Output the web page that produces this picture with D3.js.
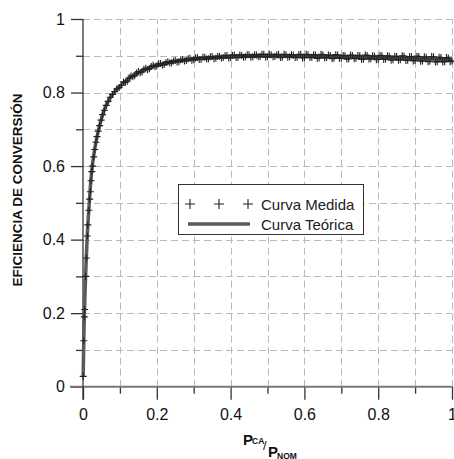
<!DOCTYPE html>
<html>
<head>
<meta charset="utf-8">
<script src="https://cdn.jsdelivr.net/npm/d3@7"></script>
<style>
  html, body { margin: 0; padding: 0; background: #fff; }
  svg { display: block; font-family: Arial, "Liberation Sans", sans-serif; }
</style>
</head>
<body>
<svg id="chart" width="454" height="459"></svg>
<script>
// Tick values
const majorTicks = [0, 0.2, 0.4, 0.6, 0.8, 1];
const minorTicks = [0.1, 0.3, 0.5, 0.7, 0.9];
const gridTicks = [0.1, 0.2, 0.3, 0.4, 0.5, 0.6, 0.7, 0.8, 0.9, 1];
const tickLabels = ["0", "0.2", "0.4", "0.6", "0.8", "1"];

// Theoretical efficiency curve (P_CA/P_NOM, efficiency)
const theoP = [0.0005, 0.002, 0.0035, 0.006, 0.0085, 0.0115, 0.015, 0.019, 0.024, 0.03,
  0.037, 0.045, 0.055, 0.065, 0.08, 0.095, 0.11, 0.13, 0.15, 0.175, 0.2, 0.25, 0.3,
  0.35, 0.4, 0.45, 0.5, 0.55, 0.6, 0.65, 0.7, 0.75, 0.8, 0.85, 0.9, 0.95, 1.0];
const theoEta = [0.03, 0.12, 0.19, 0.27, 0.34, 0.41, 0.47, 0.53, 0.59, 0.635,
  0.675, 0.71, 0.745, 0.77, 0.795, 0.812, 0.826, 0.842, 0.854, 0.866, 0.874, 0.885, 0.891,
  0.895, 0.898, 0.9, 0.9, 0.9, 0.899, 0.898, 0.897, 0.896, 0.895, 0.894, 0.893, 0.891, 0.89];

// Measured efficiency points
const measP = [0.0005, 0.002, 0.0035, 0.0045, 0.007, 0.009, 0.0115, 0.013, 0.016, 0.018,
  0.02, 0.022, 0.024, 0.026, 0.029, 0.032, 0.035, 0.038, 0.041, 0.045, 0.049, 0.053,
  0.058, 0.063, 0.068, 0.074, 0.08, 0.086, 0.092, 0.098, 0.104,
  0.110, 0.115, 0.120, 0.125, 0.130, 0.135, 0.140, 0.145, 0.150, 0.155,
  0.160, 0.165, 0.170, 0.175, 0.180, 0.185, 0.190, 0.195, 0.200, 0.205,
  0.210, 0.215, 0.220, 0.225, 0.230, 0.235, 0.240, 0.245, 0.250, 0.255,
  0.260, 0.265, 0.270, 0.275, 0.280, 0.285, 0.290, 0.295, 0.300, 0.305,
  0.310, 0.315, 0.320, 0.325, 0.330, 0.335, 0.340, 0.345, 0.350, 0.355,
  0.360, 0.365, 0.370, 0.375, 0.380, 0.385, 0.390, 0.395, 0.400, 0.405,
  0.410, 0.415, 0.420, 0.425, 0.430, 0.435, 0.440, 0.445, 0.450, 0.455,
  0.460, 0.465, 0.470, 0.475, 0.480, 0.485, 0.490, 0.495, 0.500, 0.505,
  0.510, 0.515, 0.520, 0.525, 0.530, 0.535, 0.540, 0.545, 0.550, 0.555,
  0.560, 0.565, 0.570, 0.575, 0.580, 0.585, 0.590, 0.595, 0.600, 0.605,
  0.610, 0.615, 0.620, 0.625, 0.630, 0.635, 0.640, 0.645, 0.650, 0.655,
  0.660, 0.665, 0.670, 0.675, 0.680, 0.685, 0.690, 0.695, 0.700, 0.705,
  0.710, 0.715, 0.720, 0.725, 0.730, 0.735, 0.740, 0.745, 0.750, 0.755,
  0.760, 0.765, 0.770, 0.775, 0.780, 0.785, 0.790, 0.795, 0.800, 0.805,
  0.810, 0.815, 0.820, 0.825, 0.830, 0.835, 0.840, 0.845, 0.850, 0.855,
  0.860, 0.865, 0.870, 0.875, 0.880, 0.885, 0.890, 0.895, 0.900, 0.905,
  0.910, 0.915, 0.920, 0.925, 0.930, 0.935, 0.940, 0.945, 0.950, 0.955,
  0.960, 0.965, 0.970, 0.975, 0.980, 0.985, 0.990, 0.995, 1.000];
const measEta = [0.028, 0.125, 0.19, 0.21, 0.30, 0.35, 0.41, 0.44, 0.48, 0.51,
  0.53, 0.56, 0.585, 0.6, 0.625, 0.645, 0.665, 0.68, 0.695, 0.71, 0.725, 0.74,
  0.752, 0.765, 0.776, 0.787, 0.795, 0.803, 0.81, 0.814, 0.82,
  0.829, 0.828, 0.831, 0.840, 0.845, 0.843, 0.846, 0.853, 0.857, 0.854,
  0.856, 0.863, 0.866, 0.862, 0.865, 0.871, 0.874, 0.870, 0.872, 0.878,
  0.879, 0.875, 0.876, 0.882, 0.884, 0.880, 0.881, 0.886, 0.887, 0.883,
  0.884, 0.889, 0.890, 0.886, 0.887, 0.892, 0.893, 0.888, 0.889, 0.894,
  0.895, 0.890, 0.890, 0.896, 0.896, 0.891, 0.892, 0.897, 0.898, 0.892,
  0.893, 0.898, 0.899, 0.894, 0.895, 0.900, 0.901, 0.894, 0.895, 0.901,
  0.902, 0.895, 0.896, 0.902, 0.901, 0.896, 0.897, 0.903, 0.903, 0.896,
  0.897, 0.903, 0.902, 0.897, 0.898, 0.904, 0.904, 0.896, 0.897, 0.904,
  0.903, 0.897, 0.898, 0.903, 0.904, 0.895, 0.896, 0.904, 0.903, 0.896,
  0.897, 0.903, 0.902, 0.895, 0.896, 0.903, 0.904, 0.894, 0.895, 0.904,
  0.903, 0.895, 0.896, 0.903, 0.902, 0.893, 0.894, 0.904, 0.903, 0.894,
  0.895, 0.902, 0.901, 0.892, 0.893, 0.903, 0.902, 0.893, 0.894, 0.901,
  0.900, 0.891, 0.892, 0.902, 0.901, 0.892, 0.893, 0.901, 0.900, 0.890,
  0.891, 0.902, 0.901, 0.891, 0.892, 0.900, 0.899, 0.889, 0.890, 0.901,
  0.900, 0.890, 0.891, 0.900, 0.899, 0.888, 0.889, 0.899, 0.898, 0.888,
  0.889, 0.900, 0.899, 0.887, 0.888, 0.898, 0.897, 0.886, 0.887, 0.899,
  0.898, 0.885, 0.886, 0.897, 0.896, 0.884, 0.885, 0.898, 0.897, 0.883,
  0.884, 0.896, 0.895, 0.883, 0.884, 0.895, 0.894, 0.884, 0.886];

const legendLabels = ["Curva Medida", "Curva Teórica"];

const svg = d3.select("#chart");
svg.append("rect").attr("width", 454).attr("height", 459).attr("fill", "#fff");

const x = d3.scaleLinear().domain([0, 1]).range([83, 452]);
const y = d3.scaleLinear().domain([0, 1]).range([386.7, 19]);

// Dashed grid
const grid = svg.append("g").attr("stroke", "#b9b9b9").attr("stroke-width", 1)
  .attr("stroke-dasharray", "7,4");
grid.selectAll("line.v").data(gridTicks).join("line").attr("class", "v")
  .attr("x1", d => Math.round(x(d)) + 0.5).attr("x2", d => Math.round(x(d)) + 0.5)
  .attr("y1", y(0)).attr("y2", y(1));
grid.selectAll("line.h").data(gridTicks).join("line").attr("class", "h")
  .attr("x1", x(0)).attr("x2", x(1))
  .attr("y1", d => Math.round(y(d)) + 0.5).attr("y2", d => Math.round(y(d)) + 0.5);

// Axes
const fmt = d => tickLabels[majorTicks.indexOf(d)];
const xAxis = svg.append("g").attr("transform", `translate(0,${y(0)})`)
  .call(d3.axisBottom(x).tickValues(majorTicks).tickFormat(fmt).tickSize(13).tickPadding(9));
const xMinor = svg.append("g").attr("transform", `translate(0,${y(0)})`)
  .call(d3.axisBottom(x).tickValues(minorTicks).tickFormat("").tickSize(7));
const yAxis = svg.append("g").attr("transform", `translate(${x(0)},0)`)
  .call(d3.axisLeft(y).tickValues(majorTicks).tickFormat(fmt).tickSize(12).tickPadding(6));
const yMinor = svg.append("g").attr("transform", `translate(${x(0)},0)`)
  .call(d3.axisLeft(y).tickValues(minorTicks).tickFormat("").tickSize(7));

[xAxis, xMinor, yAxis, yMinor].forEach(g => {
  g.select(".domain").remove();
  g.selectAll(".tick line").attr("stroke", "#333").attr("stroke-width", 1.3);
  g.selectAll("text").attr("font-size", 16).attr("fill", "#111")
    .attr("font-family", "Arial, 'Liberation Sans', sans-serif");
});

// Axis lines
svg.append("line").attr("x1", x(0) - 13).attr("x2", x(1))
  .attr("y1", y(0)).attr("y2", y(0)).attr("stroke", "#777").attr("stroke-width", 2);
svg.append("line").attr("x1", x(0)).attr("x2", x(0))
  .attr("y1", y(0) + 13).attr("y2", y(1)).attr("stroke", "#333").attr("stroke-width", 1.3);

// Theoretical curve
const theo = theoP.map((p, i) => [p, theoEta[i]]);
const line = d3.line().x(d => x(d[0])).y(d => y(d[1])).curve(d3.curveMonotoneX);
svg.append("path").datum(theo).attr("d", line).attr("fill", "none")
  .attr("stroke", "#5a5a5a").attr("stroke-width", 3.5).attr("stroke-linejoin", "round");

// Measured points as "+" markers
const plus = s => `M${-s},0H${s}M0,${-s}V${s}`;
const meas = measP.map((p, i) => [p, measEta[i]]);
svg.append("g").selectAll("path").data(meas).join("path")
  .attr("transform", d => `translate(${x(d[0])},${y(d[1])})`)
  .attr("d", plus(3.5)).attr("fill", "none").attr("stroke", "#222").attr("stroke-width", 1.1);

// Legend
const lg = svg.append("g");
lg.append("rect").attr("x", 178.5).attr("y", 184.5).attr("width", 185).attr("height", 50)
  .attr("fill", "#fff").attr("stroke", "#333").attr("stroke-width", 1);
[190, 219, 248].forEach(cx => {
  lg.append("path").attr("transform", `translate(${cx},204)`).attr("d", plus(5))
    .attr("fill", "none").attr("stroke", "#222").attr("stroke-width", 1.1);
});
lg.append("line").attr("x1", 188).attr("x2", 250).attr("y1", 224).attr("y2", 224)
  .attr("stroke", "#5a5a5a").attr("stroke-width", 3.5);
lg.selectAll("text").data(legendLabels).join("text")
  .attr("x", 261).attr("y", (d, i) => 209.5 + i * 20)
  .attr("font-size", 15).attr("fill", "#222").text(d => d);

// Y axis title
svg.append("text").attr("transform", "translate(22,190) rotate(-90)")
  .attr("text-anchor", "middle").attr("font-size", 13.5).attr("font-weight", "bold")
  .attr("fill", "#111").text("EFICIENCIA DE CONVERSIÓN");

// X axis title: P_CA / P_NOM
const xt = svg.append("g").attr("fill", "#111").attr("font-weight", "bold");
xt.append("text").attr("x", 243).attr("y", 445).attr("font-size", 15).text("P");
xt.append("text").attr("x", 252).attr("y", 444).attr("font-size", 8.5).text("CA");
xt.append("text").attr("x", 263).attr("y", 450).attr("font-size", 13).attr("font-weight", "normal").text("/");
xt.append("text").attr("x", 268).attr("y", 457).attr("font-size", 15).text("P");
xt.append("text").attr("x", 277).attr("y", 459).attr("font-size", 8.5).text("NOM");
</script>
</body>
</html>
